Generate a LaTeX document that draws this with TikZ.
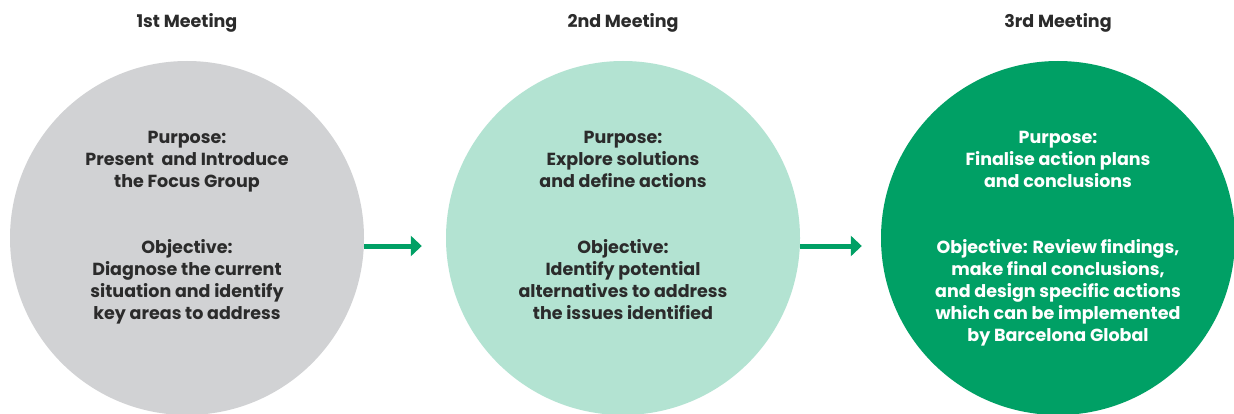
\documentclass[tikz,border=0pt]{standalone}
\usepackage{fontspec}
\setmainfont{Poppins}
\usetikzlibrary{positioning,arrows.meta}
\definecolor{meetgrey}{HTML}{D1D2D4}
\definecolor{meetmint}{HTML}{B3E3D2}
\definecolor{meetgreen}{HTML}{00A065}
\definecolor{ink}{HTML}{2B2B2B}

\begin{document}
\begin{tikzpicture}[x=1pt,y=1pt,
  meeting/.style={circle,minimum size=354pt,inner sep=0pt},
  heading/.style={font=\bfseries\fontsize{17.5}{20}\selectfont,text=ink,inner sep=0pt},
  body/.style={align=center,anchor=north,inner sep=0pt,
    font=\bfseries\fontsize{17.5}{22}\selectfont,text=ink},
  flow/.style={draw=meetgreen,line width=5pt,-{Triangle[length=11pt,width=20pt]}}]
\clip (0,0) rectangle (1234,413);
\fill[white] (0,0) rectangle (1234,413);

\node[meeting,fill=meetgrey] (c1) at (187,175) {};
\node[meeting,fill=meetmint] (c2) at (623,175) {};
\node[meeting,fill=meetgreen] (c3) at (1058,175) {};

\node[heading,above=28pt of c1] (t1) {1st Meeting};
\node[heading,above=28pt of c2] (t2) {2nd Meeting};
\node[heading,above=28pt of c3] (t3) {3rd Meeting};

\node[body] (p1) at ([yshift=107pt]c1.center) {Purpose:\\Present\ \ and Introduce\\the Focus Group};
\node[body] (o1) at ([yshift=-1pt]c1.center) {Objective:\\Diagnose the current\\situation and identify\\key areas to address};

\node[body] (p2) at ([yshift=107pt]c2.center) {Purpose:\\Explore solutions\\and define actions};
\node[body] (o2) at ([yshift=-1pt]c2.center) {Objective:\\Identify potential\\alternatives to address\\the issues identified};

\node[body,text=white] (p3) at ([yshift=107pt]c3.center) {Purpose:\\Finalise action plans\\and conclusions};
\node[body,text=white] (o3) at ([yshift=-1pt]c3.center) {Objective: Review findings,\\make final conclusions,\\and design specific actions\\which can be implemented\\by Barcelona Global};

\draw[flow] ([yshift=-8pt]c1.east) -- ([xshift=-24pt,yshift=-8pt]c2.west);
\draw[flow] ([yshift=-8pt]c2.east) -- ([xshift=-19pt,yshift=-8pt]c3.west);
\end{tikzpicture}
\end{document}
